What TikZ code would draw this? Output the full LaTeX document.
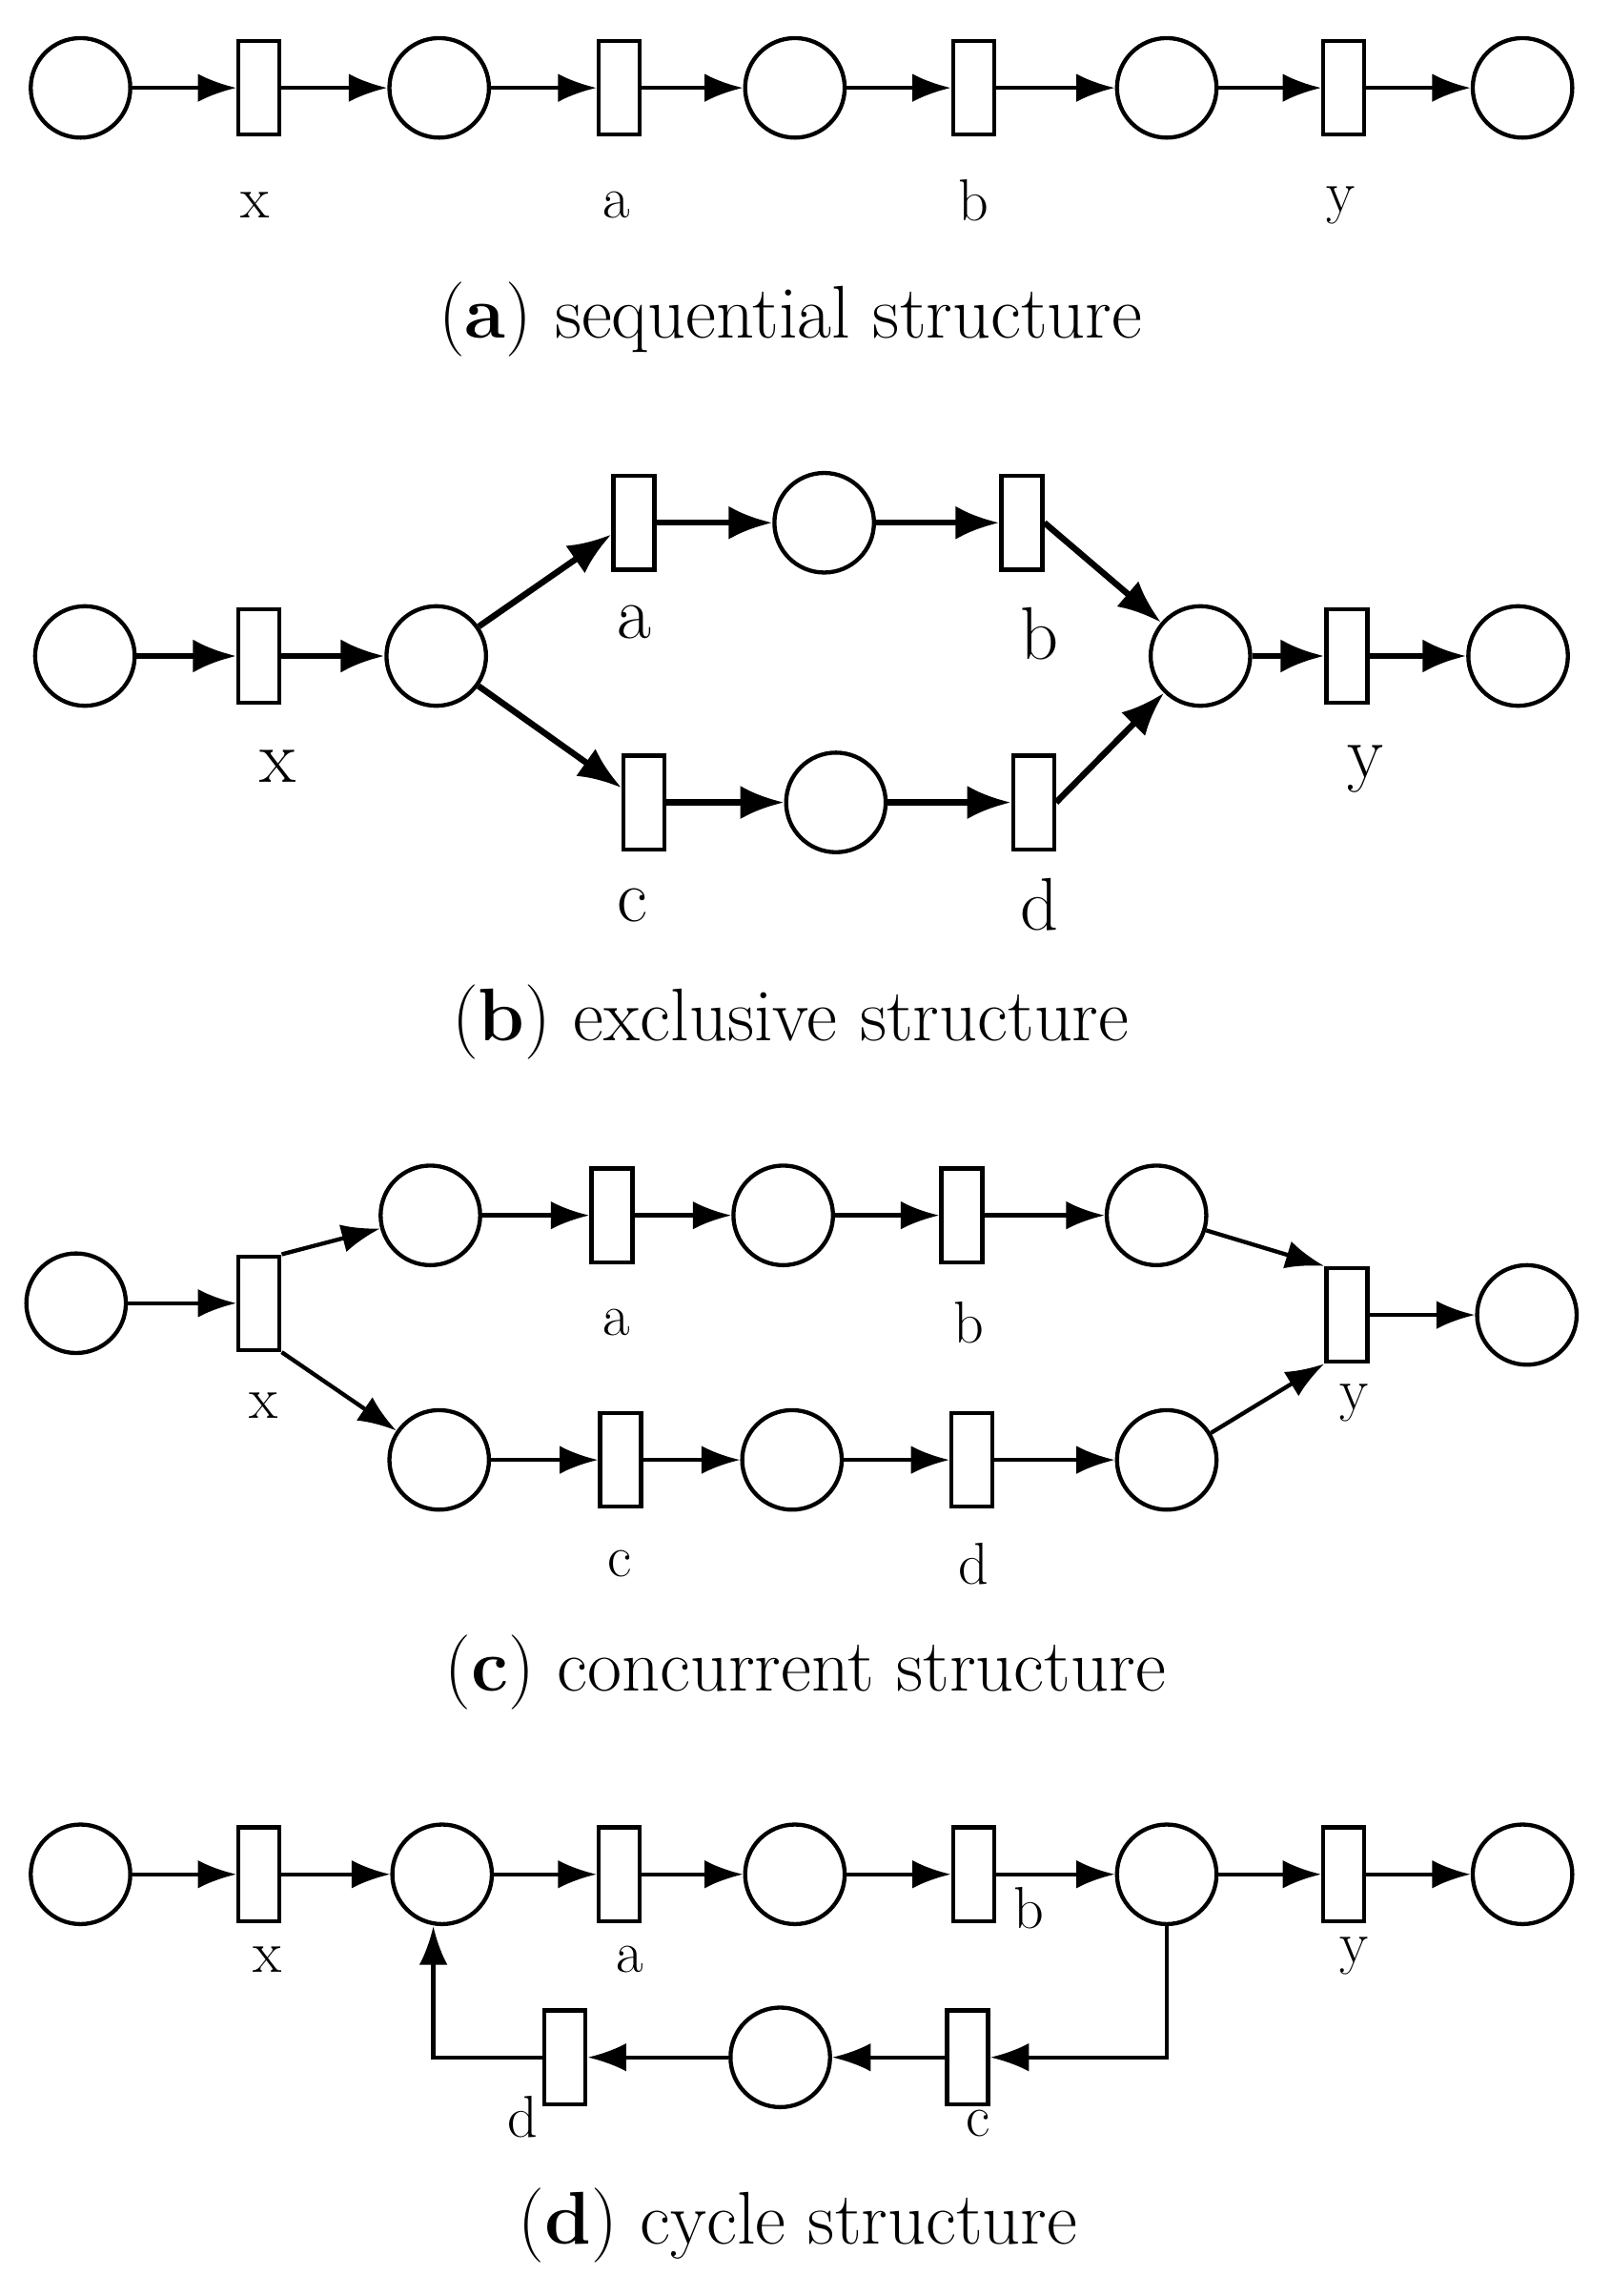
\documentclass[tikz,border=0pt]{standalone}
\usetikzlibrary{arrows.meta}
\begin{document}
\begin{tikzpicture}[x=0.02cm,y=-0.02cm,
  pl/.style={circle,draw,line width=1.6pt,minimum size=68*0.02cm,inner sep=0pt},
  tr/.style={rectangle,draw,line width=1.6pt,minimum width=28*0.02cm,minimum height=64*0.02cm,inner sep=0pt},
  ar/.style={line width=1.6pt,-{Latex[length=15pt,width=11pt]}},
  arb/.style={line width=2.4pt,-{Latex[length=17pt,width=13pt]}},
  lb/.style={font=\fontsize{23}{25}\selectfont},
  lbb/.style={font=\fontsize{29}{31}\selectfont},
  captxt/.style={font=\fontsize{29}{32}\selectfont}]
\useasboundingbox (0,0) rectangle (1100,1568);
% (a)
\node[pl] (a1) at (55,60) {};
\node[tr] (ax) at (177,60) {};
\node[pl] (a2) at (300,60) {};
\node[tr] (aa) at (423,60) {};
\node[pl] (a3) at (543,60) {};
\node[tr] (ab) at (665,60) {};
\node[pl] (a4) at (797,60) {};
\node[tr] (ay) at (918,60) {};
\node[pl] (a5) at (1040,60) {};
\draw[ar] (a1)--(ax); \draw[ar] (ax)--(a2); \draw[ar] (a2)--(aa); \draw[ar] (aa)--(a3);
\draw[ar] (a3)--(ab); \draw[ar] (ab)--(a4); \draw[ar] (a4)--(ay); \draw[ar] (ay)--(a5);
\node[lb] (lax) at (174,140) {x}; \node[lb] (laa) at (421,140) {a};
\node[lb] (lab) at (665,137) {b}; \node[lb] (lay) at (916,140) {y};
\node[captxt] (capa) at (540,218) {(\textbf{a}) sequential structure};
% (b)
\node[pl] (b1) at (58,448) {};
\node[tr] (bx) at (177,448) {};
\node[pl] (b2) at (298,448) {};
\node[tr] (ba) at (433,357) {};
\node[pl] (b3) at (563,357) {};
\node[tr] (bb) at (698,357) {};
\node[pl] (b4) at (820,448) {};
\node[tr] (by) at (920,448) {};
\node[pl] (b5) at (1037,448) {};
\node[tr] (bc) at (440,548) {};
\node[pl] (b6) at (571,548) {};
\node[tr] (bd) at (706,548) {};
\draw[arb] (b1)--(bx); \draw[arb] (bx)--(b2);
\draw[arb] (b2)--(ba.west|-0,365); \draw[arb] (ba)--(b3); \draw[arb] (b3)--(bb);
\draw[arb] (bb.east)--(b4);
\draw[arb] (b2)--(bc.west|-0,538); \draw[arb] (bc)--(b6); \draw[arb] (b6)--(bd);
\draw[arb] (bd.east)--(b4);
\draw[arb] (b4)--(by); \draw[arb] (by)--(b5);
\node[lbb] (lbx) at (190,523) {x}; \node[lbb] (lba) at (433,425) {a};
\node[lbb] (lbb) at (710,433) {b}; \node[lbb] (lbc) at (432,618) {c};
\node[lbb] (lbd) at (710,618) {d}; \node[lbb] (lby) at (933,525) {y};
\node[captxt] (capb) at (540,698) {(\textbf{b}) exclusive structure};
% (c)
\node[pl] (c1) at (52,890) {};
\node[tr] (cx) at (177,890) {};
\node[pl] (c2) at (294,830) {};
\node[tr] (ca) at (418,830) {};
\node[pl] (c3) at (535,830) {};
\node[tr] (cb) at (657,830) {};
\node[pl] (c4) at (790,830) {};
\node[tr] (cy) at (920,898) {};
\node[pl] (c5) at (1043,898) {};
\node[pl] (c6) at (300,997) {};
\node[tr] (cc) at (424,997) {};
\node[pl] (c7) at (541,997) {};
\node[tr] (cd) at (664,997) {};
\node[pl] (c8) at (797,997) {};
\draw[ar] (c1)--(cx); \draw[ar] (cx.north east)--(c2); \draw[ar] (cx.south east)--(c6);
\draw[ar] (c2)--(ca); \draw[ar] (ca)--(c3); \draw[ar] (c3)--(cb); \draw[ar] (cb)--(c4);
\draw[ar] (c4)--(cy.north west); \draw[ar] (c8)--(cy.south west); \draw[ar] (cy)--(c5);
\draw[ar] (c6)--(cc); \draw[ar] (cc)--(c7); \draw[ar] (c7)--(cd); \draw[ar] (cd)--(c8);
\node[lb] (lca) at (421,903) {a}; \node[lb] (lcb) at (662,903) {b};
\node[lb] (lcx) at (180,960) {x}; \node[lb] (lcy) at (925,958) {y};
\node[lb] (lcc) at (423,1068) {c}; \node[lb] (lcd) at (665,1068) {d};
\node[captxt] (capc) at (550,1142) {(\textbf{c}) concurrent structure};
% (d)
\node[pl] (d1) at (55,1280) {};
\node[tr] (dx) at (177,1280) {};
\node[pl] (d2) at (302,1280) {};
\node[tr] (da) at (423,1280) {};
\node[pl] (d3) at (543,1280) {};
\node[tr] (db) at (665,1280) {};
\node[pl] (d4) at (797,1280) {};
\node[tr] (dy) at (918,1280) {};
\node[pl] (d5) at (1040,1280) {};
\node[tr] (dc) at (661,1405) {};
\node[pl] (d6) at (533,1405) {};
\node[tr] (dd) at (386,1405) {};
\draw[ar] (d1)--(dx); \draw[ar] (dx)--(d2); \draw[ar] (d2)--(da); \draw[ar] (da)--(d3);
\draw[ar] (d3)--(db); \draw[ar] (db)--(d4); \draw[ar] (d4)--(dy); \draw[ar] (dy)--(d5);
\draw[ar] (d4.south) |- (dc.east); \draw[ar] (dc)--(d6); \draw[ar] (d6)--(dd);
\draw[ar] (dd.west) -| ([xshift=-6*0.02cm]d2.south);
\node[lb] (ldx) at (183,1338) {x}; \node[lb] (lda) at (430,1338) {a};
\node[lb] (ldb) at (703,1303) {b}; \node[lb] (ldy) at (925,1336) {y};
\node[lb] (ldd) at (357,1446) {d}; \node[lb] (ldc) at (668,1450) {c};
\node[captxt] (capd) at (545,1520) {(\textbf{d}) cycle structure};
\end{tikzpicture}
\end{document}
